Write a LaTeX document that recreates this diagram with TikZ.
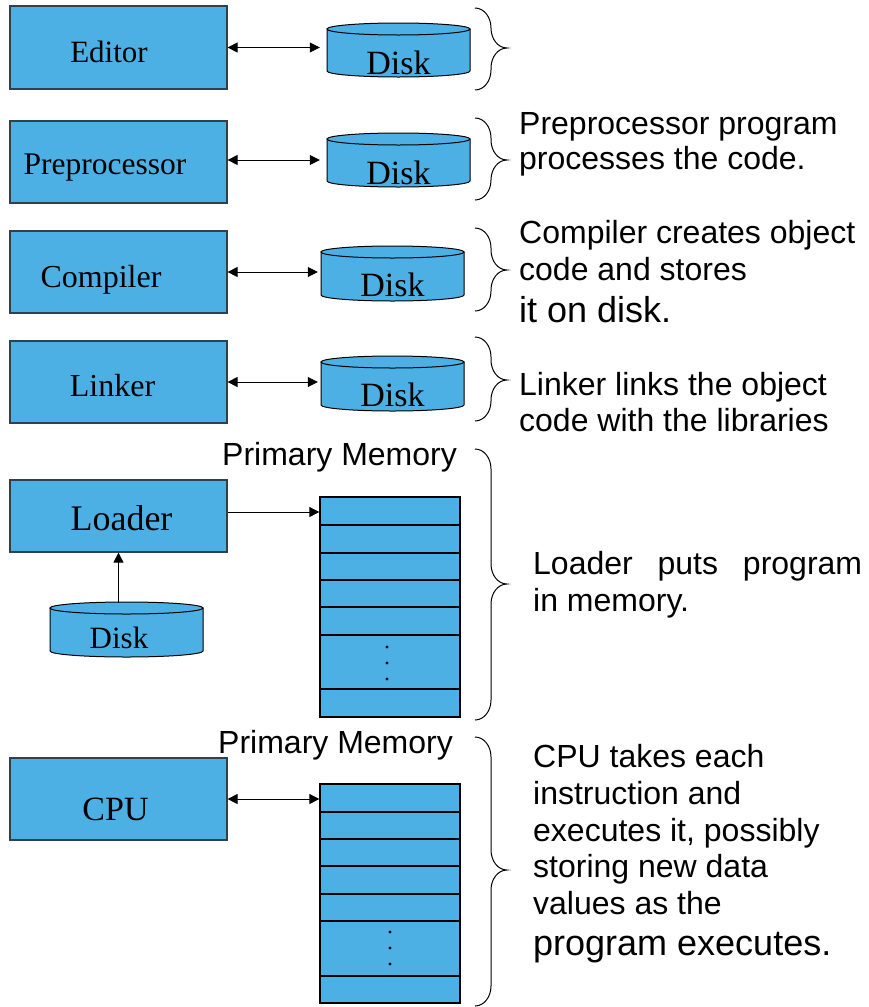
\documentclass[tikz,border=0pt]{standalone}
\usepackage{fontspec}
\setmainfont{Liberation Serif}
\newfontfamily\arialf{Liberation Sans}
\usetikzlibrary{arrows.meta}
\definecolor{boxblue}{RGB}{77,176,228}
\definecolor{boxline}{RGB}{45,65,80}
\tikzset{
  box/.style={draw=boxline, fill=boxblue, line width=1.2pt, minimum width=217pt, inner sep=0pt},
  boxtext/.style={anchor=base, inner sep=0pt, font=\fontsize{#1}{#1}\selectfont},
  boxtext/.default=31,
  desc/.style={anchor=base west, inner sep=0pt, font=\arialf\fontsize{#1}{#1}\selectfont},
  desc/.default=32,
  diskbody/.style={draw=black, fill=boxblue, line width=1pt},
  memline/.style={draw=black, line width=1.3pt},
  mem/.style={draw=black, fill=boxblue, line width=1.3pt, inner sep=0pt, minimum width=140pt},
  holder/.style={inner sep=0pt},
  biarrow/.style={{Triangle[length=10pt,width=10pt]}-{Triangle[length=10pt,width=10pt]}, line width=0.8pt},
  onearrow/.style={-{Triangle[length=10pt,width=10pt]}, line width=0.8pt},
  bracel/.style={draw=black, line width=1pt}
}
\newcommand\DiskAt[8]{% name, xl, xr, yt, yb, text baseline, font size, text x
  \pgfmathsetmacro\rx{(#3-#2)/2}%
  \pgfmathsetmacro\cx{(#2+#3)/2}%
  \path[diskbody] (#2,#4) -- (#2,#5)
     .. controls (#2,{#5+3.3}) and ({\cx-\rx*0.552},{#5+6}) .. (\cx,{#5+6})
     .. controls ({\cx+\rx*0.552},{#5+6}) and (#3,{#5+3.3}) .. (#3,#5)
     -- (#3,#4) -- cycle;
  \path[diskbody] (\cx,#4) ellipse[x radius=\rx, y radius=6];
  \node[holder, minimum width={(#3-#2)*1pt}, minimum height={(#5-#4+12)*1pt}] (#1) at (\cx,{(#4+#5)/2}) {};
  \node[boxtext=#7] at (#8,#6) {Disk};
}
\newcommand\BraceAt[3]{% yt, ym, yb
  \draw[bracel] (475,#1) .. controls (484,#1) and (491,{#1+9}) .. (491,{#1+20})
    -- (491,{#2-20}) .. controls (491,{#2-9}) and (498,#2) .. (507,#2)
    .. controls (498,#2) and (491,{#2+9}) .. (491,{#2+20})
    -- (491,{#3-20}) .. controls (491,{#3-9}) and (484,#3) .. (475,#3);
}
\begin{document}
\begin{tikzpicture}[x=1pt,y=-1pt]
\useasboundingbox (0,0) rectangle (868,1007);

% --- boxes
\node[box, minimum height=83pt] (editor) at (118.5,47.5) {};
\node[boxtext=31] at (109,62) {Editor};
\node[box, minimum height=82pt] (pre) at (118.5,162) {};
\node[boxtext=31.5] at (105,174) {Preprocessor};
\node[box, minimum height=82pt] (comp) at (118.5,272) {};
\node[boxtext=32] at (101,287) {Compiler};
\node[box, minimum height=82pt] (link) at (118.5,382) {};
\node[boxtext=32] at (112.5,396) {Linker};
\node[box, minimum height=72pt] (loader) at (118.5,516) {};
\node[boxtext=36] at (121.5,530) {Loader};
\node[box, minimum height=82pt] (cpu) at (118.5,799) {};
\node[boxtext=34] at (115.5,820) {CPU};

% --- disks
\DiskAt{d1}{327}{470}{29}{71}{74}{34}{398.5}
\DiskAt{d2}{327}{470}{139}{181}{184}{34}{398.5}
\DiskAt{d3}{321}{464}{252}{295}{296}{34}{392.5}
\DiskAt{d4}{321}{464}{362}{405}{406}{34}{392.5}
\DiskAt{d5}{50}{203}{608}{651}{648}{31}{119}

% --- memories
\node[mem, minimum height=220pt] (mem1) at (390,607) {};
\foreach \yy in {525,553,580,607,635,689} \draw[memline] (320,\yy) -- (460,\yy);
\foreach \yy in {647,663,679} \fill (387,\yy) circle[radius=1.6];
\node[mem, minimum height=219pt] (mem2) at (390,893.5) {};
\foreach \yy in {812,839,866,894,921,976} \draw[memline] (320,\yy) -- (460,\yy);
\foreach \yy in {932,948,964} \fill (390,\yy) circle[radius=1.6];

\node[desc] (pm1) at (222,465) {Primary Memory};
\node[desc] (pm2) at (218,753) {Primary Memory};

% --- connectors
\draw[biarrow] (editor.east) -- ([xshift=-7pt]editor.east -| d1.west);
\draw[biarrow] ([yshift=2pt]pre.east) -- ([xshift=-7pt,yshift=2pt]pre.east -| d2.west);
\draw[biarrow] (comp.east) -- ([xshift=-3pt]comp.east -| d3.west);
\draw[biarrow] (link.east) -- ([xshift=-3pt]link.east -| d4.west);
\draw[onearrow] ([yshift=4pt]loader.east) -- ([yshift=4pt]loader.east -| mem1.west);
\draw[onearrow] ([yshift=-1pt]loader.south |- d5.north) -- (loader.south);
\draw[biarrow] (cpu.east) -- (cpu.east -| mem2.west);

% --- braces
\BraceAt{8}{48}{90}
\BraceAt{118}{160}{200}
\BraceAt{228}{270}{311}
\BraceAt{337}{380}{421}
\BraceAt{449}{584}{720}
\BraceAt{737}{870}{1006}

% --- descriptions
\node[desc] at (519,134) {Preprocessor program};
\node[desc] at (519,169) {processes the code.};
\node[desc] at (519,243) {Compiler creates object};
\node[desc] at (519,280) {code and stores};
\node[desc=36] at (519,322) {it on disk.};
\node[desc] at (519,395) {Linker links the object};
\node[desc] at (519,431) {code with the libraries};
\node[desc] at (533,574) {\makebox[329pt][s]{Loader puts program}};
\node[desc] at (533,611) {in memory.};
\node[desc] at (533,767) {CPU takes each};
\node[desc] at (533,804) {instruction and};
\node[desc] at (533,841) {executes it, possibly};
\node[desc] at (533,877) {storing new data};
\node[desc] at (533,914) {values as the};
\node[desc=36] at (533,955) {program executes.};
\end{tikzpicture}
\end{document}
